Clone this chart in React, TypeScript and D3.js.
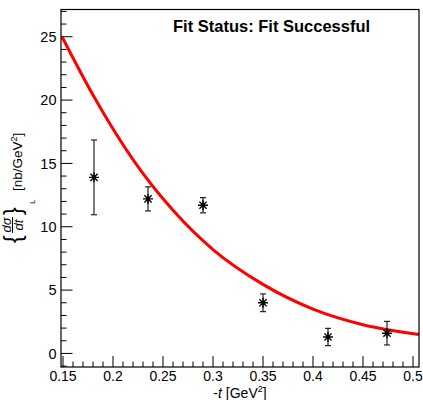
import { useEffect, useRef } from "react";
import * as d3 from "d3";

// measured points: -t [GeV^2], dsigma/dt_L [nb/GeV^2], stat. error
const tValues = [0.181, 0.235, 0.29, 0.35, 0.415, 0.474];
const sigmaL = [13.9, 12.2, 11.7, 4.0, 1.3, 1.6];
const sigmaErr = [2.95, 0.95, 0.6, 0.7, 0.68, 0.93];

// fitted curve
const fitT = [0.149, 0.18, 0.22, 0.26, 0.3, 0.35, 0.4, 0.45, 0.506];
const fitValue = [25.0, 20.4, 15.3, 11.3, 8.2, 5.45, 3.5, 2.27, 1.49];

const xMajorTicks = [0.15, 0.2, 0.25, 0.3, 0.35, 0.4, 0.45, 0.5];
const yMajorTicks = [0, 5, 10, 15, 20, 25];

const statusText = "Fit Status: Fit Successful";

function App() {
  const ref = useRef<SVGSVGElement>(null);

  const width = 423;
  const height = 400;
  const margin = { top: 9.5, right: 4, bottom: 33, left: 61 };
  const font = "Liberation Sans, Arial, Helvetica, sans-serif";

  useEffect(() => {
    const svg = d3.select(ref.current);
    svg.selectAll("*").remove();

    const x = d3.scaleLinear()
      .domain([0.148, 0.506])
      .range([margin.left, width - margin.right]);

    const y = d3.scaleLinear()
      .domain([-1.07, 27.15])
      .range([height - margin.bottom, margin.top]);

    const x0 = margin.left;
    const x1 = width - margin.right;
    const y0 = height - margin.bottom;
    const y1 = margin.top;

    svg.append("rect")
      .attr("width", width)
      .attr("height", height)
      .attr("fill", "white");

    // ticks (ROOT style, pointing inside)
    const xMinor = d3.range(15, 51).map(d => d / 100).filter(d => !xMajorTicks.some(m => Math.abs(m - d) < 1e-9));
    const yMinor = d3.range(-1, 28).filter(d => d % 5 !== 0);

    const ticks = svg.append("g").attr("stroke", "black").attr("stroke-width", 1);
    xMajorTicks.forEach(v => {
      ticks.append("line").attr("x1", x(v)).attr("x2", x(v)).attr("y1", y0).attr("y2", y0 - 11);
    });
    xMinor.forEach(v => {
      ticks.append("line").attr("x1", x(v)).attr("x2", x(v)).attr("y1", y0).attr("y2", y0 - 5.5);
    });
    yMajorTicks.forEach(v => {
      ticks.append("line").attr("x1", x0).attr("x2", x0 + 11.5).attr("y1", y(v)).attr("y2", y(v));
    });
    yMinor.forEach(v => {
      if (y(v) > y0 - 0.5) return;
      ticks.append("line").attr("x1", x0).attr("x2", x0 + 5.5).attr("y1", y(v)).attr("y2", y(v));
    });

    // tick labels
    svg.append("g")
      .selectAll("text")
      .data(xMajorTicks)
      .enter()
      .append("text")
      .attr("x", d => x(d))
      .attr("y", 381)
      .attr("text-anchor", "middle")
      .style("font-family", font)
      .style("font-size", "14px")
      .text(d => String(d));

    svg.append("g")
      .selectAll("text")
      .data(yMajorTicks)
      .enter()
      .append("text")
      .attr("x", 56.5)
      .attr("y", d => y(d))
      .attr("dy", "0.36em")
      .attr("text-anchor", "end")
      .style("font-family", font)
      .style("font-size", "14.5px")
      .text(d => d);

    // fit curve
    const line = d3.line<number>()
      .x((d, i) => x(fitT[i]))
      .y(d => y(d))
      .curve(d3.curveMonotoneX);

    svg.append("path")
      .datum(fitValue)
      .attr("d", line)
      .attr("fill", "none")
      .attr("stroke", "#ff0000")
      .attr("stroke-width", 3);

    // data points with error bars
    const pts = svg.append("g")
      .selectAll("g")
      .data(tValues.map((t, i) => ({ t, v: sigmaL[i], e: sigmaErr[i] })))
      .enter()
      .append("g")
      .attr("transform", d => `translate(${x(d.t)}, 0)`);

    pts.append("line")
      .attr("y1", d => y(d.v - d.e))
      .attr("y2", d => y(d.v + d.e))
      .attr("stroke", "#222")
      .attr("stroke-width", 1.2);
    pts.append("line")
      .attr("x1", -3).attr("x2", 3)
      .attr("y1", d => y(d.v + d.e)).attr("y2", d => y(d.v + d.e))
      .attr("stroke", "#222").attr("stroke-width", 1.2);
    pts.append("line")
      .attr("x1", -3).attr("x2", 3)
      .attr("y1", d => y(d.v - d.e)).attr("y2", d => y(d.v - d.e))
      .attr("stroke", "#222").attr("stroke-width", 1.2);

    const star = "M-5,0L5,0M0,-5L0,5M-3.6,-3.6L3.6,3.6M-3.6,3.6L3.6,-3.6";
    pts.append("path")
      .attr("transform", d => `translate(0, ${y(d.v)})`)
      .attr("d", star)
      .attr("stroke", "black")
      .attr("stroke-width", 1.4)
      .attr("fill", "none");
    pts.append("circle")
      .attr("cy", d => y(d.v))
      .attr("r", 1.8)
      .attr("fill", "black");

    // frame
    svg.append("rect")
      .attr("x", x0)
      .attr("y", y1)
      .attr("width", x1 - x0)
      .attr("height", y0 - y1)
      .attr("fill", "none")
      .attr("stroke", "black")
      .attr("stroke-width", 1.2);

    // status label
    svg.append("text")
      .attr("x", 173)
      .attr("y", 32)
      .style("font-family", font)
      .style("font-size", "16.5px")
      .style("font-weight", "bold")
      .text(statusText);

    // x title
    const xt = svg.append("text")
      .attr("x", (x0 + x1) / 2)
      .attr("y", 397.5)
      .attr("text-anchor", "middle")
      .style("font-family", font)
      .style("font-size", "14px");
    xt.append("tspan").text("-");
    xt.append("tspan").style("font-style", "italic").text("t");
    xt.append("tspan").text(" [GeV");
    xt.append("tspan").attr("dy", -6).style("font-size", "9px").text("2");
    xt.append("tspan").attr("dy", 6).text("]");

    // y title, rotated
    const yt = svg.append("g")
      .attr("transform", "translate(22, 243) rotate(-90)")
      .style("font-family", font);
    yt.append("text")
      .attr("x", 0).attr("y", -1)
      .style("font-size", "23px")
      .text("{");
    yt.append("text")
      .attr("x", 18).attr("y", -11.5)
      .attr("text-anchor", "middle")
      .style("font-size", "13px")
      .style("font-style", "italic")
      .text("dσ");
    yt.append("line")
      .attr("x1", 10).attr("x2", 26)
      .attr("y1", -9.5).attr("y2", -9.5)
      .attr("stroke", "black").attr("stroke-width", 1);
    yt.append("text")
      .attr("x", 18).attr("y", 0.5)
      .attr("text-anchor", "middle")
      .style("font-size", "13px")
      .style("font-style", "italic")
      .text("dt");
    yt.append("text")
      .attr("x", 28).attr("y", -1)
      .style("font-size", "23px")
      .text("}");
    yt.append("text")
      .attr("x", 39).attr("y", 13)
      .style("font-size", "8px")
      .text("L");
    const unit = yt.append("text")
      .attr("x", 52).attr("y", 0)
      .style("font-size", "13.5px");
    unit.append("tspan").text("[nb/GeV");
    unit.append("tspan").attr("dy", -5.5).style("font-size", "9px").text("2");
    unit.append("tspan").attr("dy", 5.5).text("]");
  });

  return (
    <div>
      <svg
        ref={ref}
        width={width}
        height={height}
        style={{ position: "absolute", left: 0, top: 0 }}
      ></svg>
    </div>
  );
}

export default App;
